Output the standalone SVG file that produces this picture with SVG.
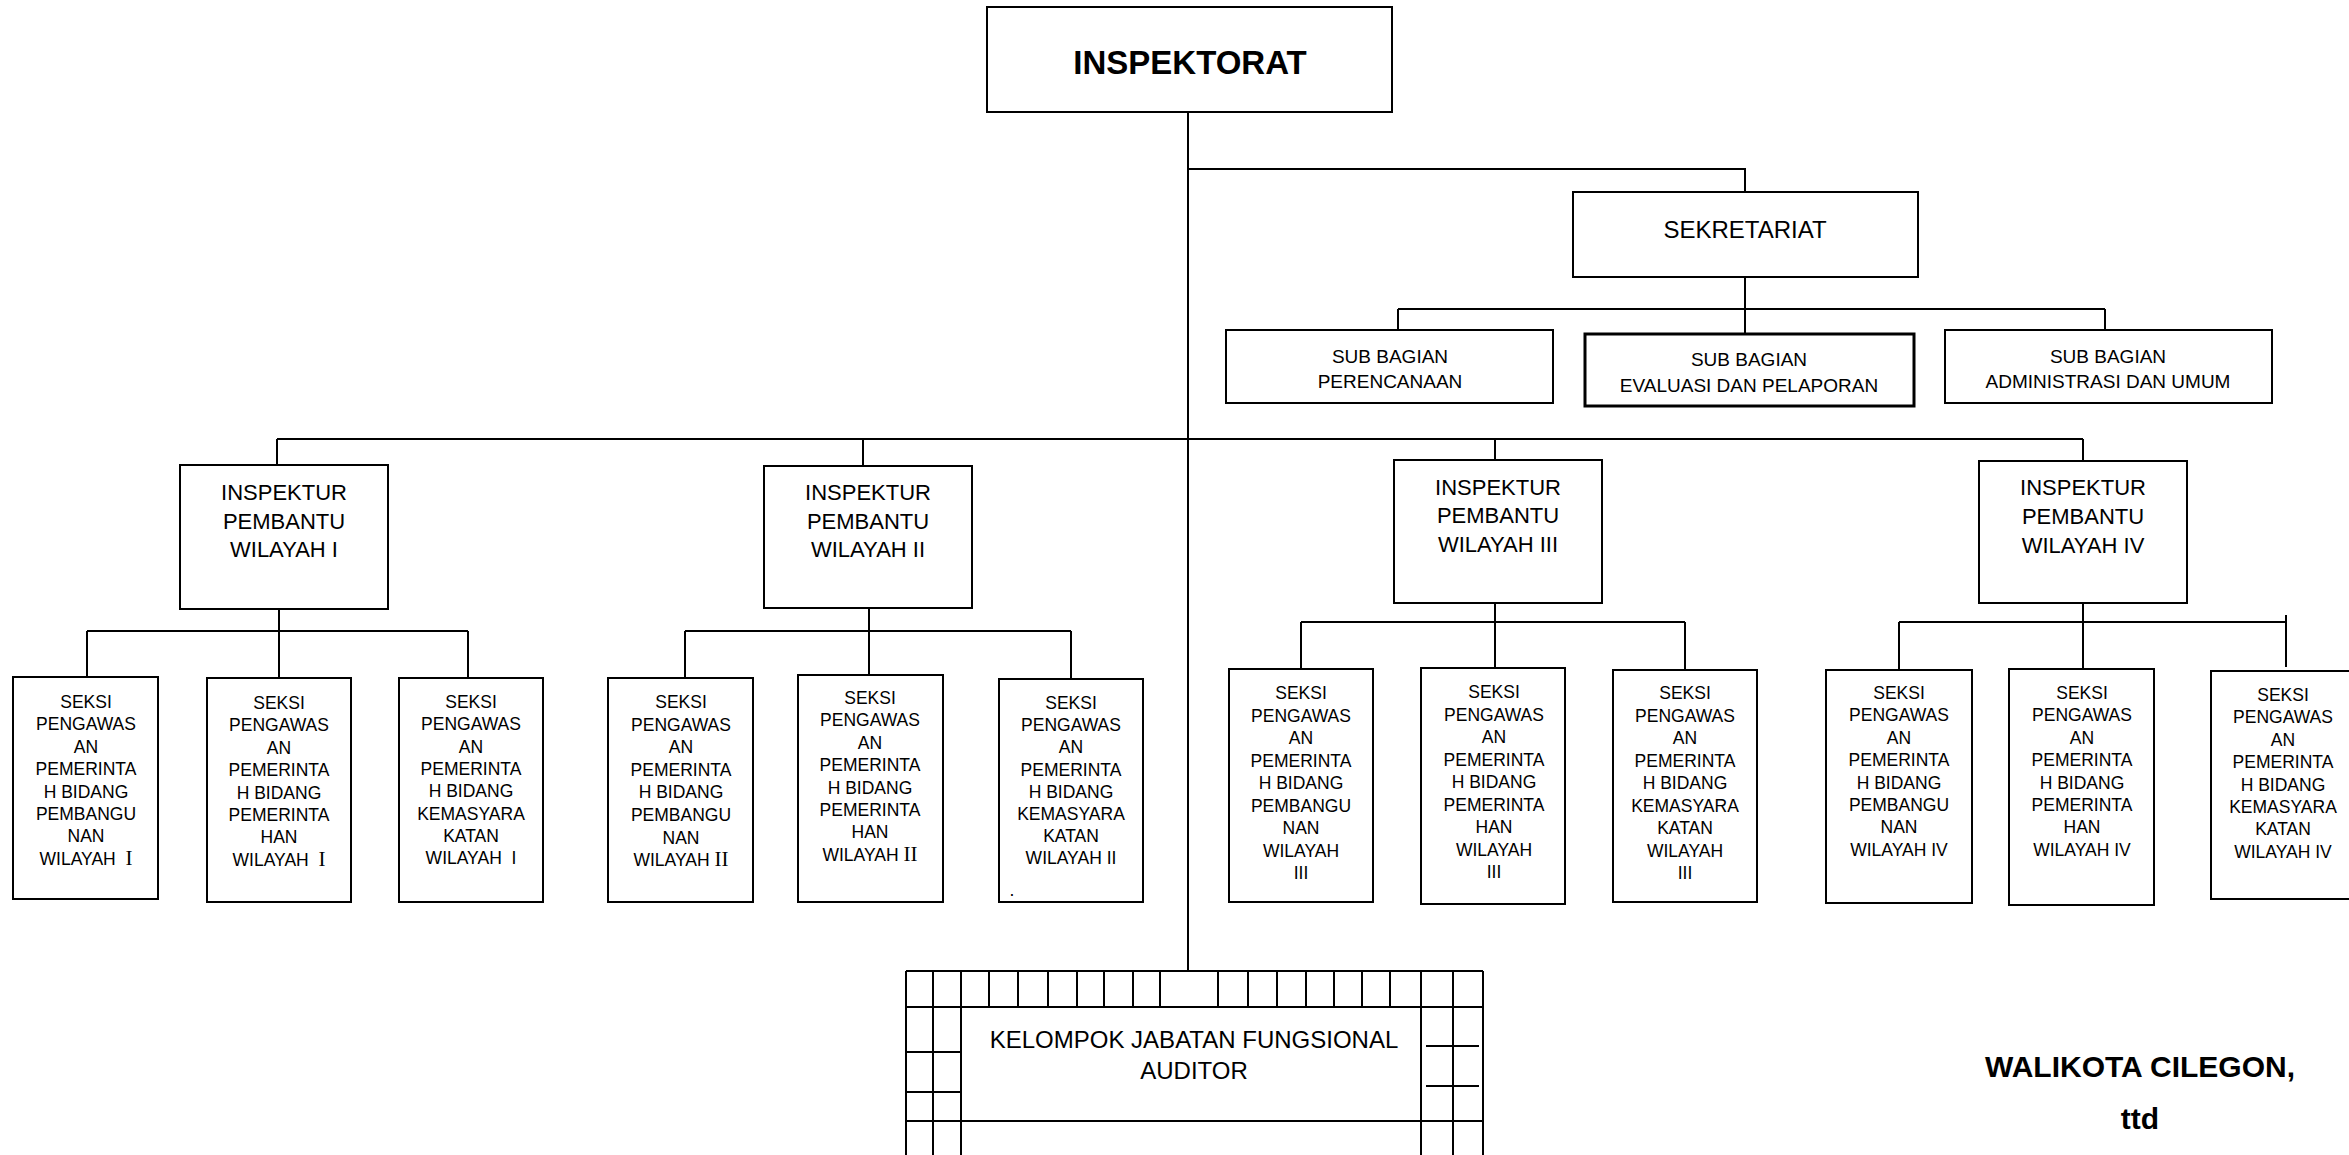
<svg xmlns="http://www.w3.org/2000/svg" width="2349" height="1155" viewBox="0 0 2349 1155">
<style>
.box{fill:#fff;stroke:#000;stroke-width:2}
.thick{stroke-width:3}
.ln{fill:none;stroke:#000;stroke-width:2}
text{font-family:"Liberation Sans",Arial,sans-serif;fill:#000;text-anchor:middle}
.b{font-weight:bold}
.sk{font-size:17.5px}
.ip{font-size:22px}
.sb{font-size:19px}
.sr{font-family:"Liberation Serif","Times New Roman",serif;font-size:21px}
</style>
<rect width="2349" height="1155" fill="#fff"/>

<g id="connectors" class="ln">
  <path d="M1188,112 V971"/>
  <path d="M1188,169 H1745 V192"/>
  <path d="M1745,277 V334 M1398,309 H2105 M1398,309 V330 M2105,309 V330"/>
  <path d="M277,439 H2083 M277,439 V465 M863,439 V466 M1495,439 V460 M2083,439 V461"/>
  <path d="M279,608 V679 M87,631 H468 M87,631 V677 M468,631 V679"/>
  <path d="M869,608 V675 M685,631 H1071 M685,631 V678 M1071,631 V679"/>
  <path d="M1495,602 V668 M1301,622 H1685 M1301,622 V669 M1685,622 V670"/>
  <path d="M2083,602 V669 M1899,622 H2286 M1899,622 V670 M2286,615 V667"/>
</g>

<g id="inspektorat">
  <rect class="box" x="987" y="7" width="405" height="105"/>
  <text class="b" x="1190" y="74" font-size="33">INSPEKTORAT</text>
</g>

<g id="sekretariat">
  <rect class="box" x="1573" y="192" width="345" height="85"/>
  <text x="1745" y="238" font-size="24">SEKRETARIAT</text>
</g>

<g id="sub-perencanaan">
  <rect class="box" x="1226" y="330" width="327" height="73"/>
  <text class="sb" x="1390" y="363">SUB BAGIAN</text>
  <text class="sb" x="1390" y="388">PERENCANAAN</text>
</g>
<g id="sub-evaluasi">
  <rect class="box thick" x="1585" y="334" width="329" height="72"/>
  <text class="sb" x="1749" y="366">SUB BAGIAN</text>
  <text class="sb" x="1749" y="392">EVALUASI DAN PELAPORAN</text>
</g>
<g id="sub-administrasi">
  <rect class="box" x="1945" y="330" width="327" height="73"/>
  <text class="sb" x="2108" y="363">SUB BAGIAN</text>
  <text class="sb" x="2108" y="388">ADMINISTRASI DAN UMUM</text>
</g>

<g id="ip1">
  <rect class="box" x="180" y="465" width="208" height="144"/>
  <text class="ip" x="284" y="500">INSPEKTUR</text>
  <text class="ip" x="284" y="529">PEMBANTU</text>
  <text class="ip" x="284" y="557">WILAYAH I</text>
</g>
<g id="ip2">
  <rect class="box" x="764" y="466" width="208" height="142"/>
  <text class="ip" x="868" y="500">INSPEKTUR</text>
  <text class="ip" x="868" y="529">PEMBANTU</text>
  <text class="ip" x="868" y="557">WILAYAH II</text>
</g>
<g id="ip3">
  <rect class="box" x="1394" y="460" width="208" height="143"/>
  <text class="ip" x="1498" y="495">INSPEKTUR</text>
  <text class="ip" x="1498" y="523">PEMBANTU</text>
  <text class="ip" x="1498" y="552">WILAYAH III</text>
</g>
<g id="ip4">
  <rect class="box" x="1979" y="461" width="208" height="142"/>
  <text class="ip" x="2083" y="495">INSPEKTUR</text>
  <text class="ip" x="2083" y="524">PEMBANTU</text>
  <text class="ip" x="2083" y="553">WILAYAH IV</text>
</g>

<!-- Group I -->
<g id="s1a">
  <rect class="box" x="13" y="677" width="145" height="222"/>
  <text class="sk" x="86" y="708"><tspan x="86">SEKSI</tspan><tspan x="86" dy="22.4">PENGAWAS</tspan><tspan x="86" dy="22.4">AN</tspan><tspan x="86" dy="22.4">PEMERINTA</tspan><tspan x="86" dy="22.4">H BIDANG</tspan><tspan x="86" dy="22.4">PEMBANGU</tspan><tspan x="86" dy="22.4">NAN</tspan><tspan x="86" dy="22.4">WILAYAH&#160; <tspan class="sr">I</tspan></tspan></text>
</g>
<g id="s1b">
  <rect class="box" x="207" y="678" width="144" height="224"/>
  <text class="sk" x="279" y="709"><tspan x="279">SEKSI</tspan><tspan x="279" dy="22.4">PENGAWAS</tspan><tspan x="279" dy="22.4">AN</tspan><tspan x="279" dy="22.4">PEMERINTA</tspan><tspan x="279" dy="22.4">H BIDANG</tspan><tspan x="279" dy="22.4">PEMERINTA</tspan><tspan x="279" dy="22.4">HAN</tspan><tspan x="279" dy="22.4">WILAYAH&#160; <tspan class="sr">I</tspan></tspan></text>
</g>
<g id="s1c">
  <rect class="box" x="399" y="678" width="144" height="224"/>
  <text class="sk" x="471" y="708"><tspan x="471">SEKSI</tspan><tspan x="471" dy="22.3">PENGAWAS</tspan><tspan x="471" dy="22.3">AN</tspan><tspan x="471" dy="22.3">PEMERINTA</tspan><tspan x="471" dy="22.3">H BIDANG</tspan><tspan x="471" dy="22.3">KEMASYARA</tspan><tspan x="471" dy="22.3">KATAN</tspan><tspan x="471" dy="22.3">WILAYAH&#160; I</tspan></text>
</g>

<!-- Group II -->
<g id="s2a">
  <rect class="box" x="608" y="678" width="145" height="224"/>
  <text class="sk" x="681" y="708"><tspan x="681">SEKSI</tspan><tspan x="681" dy="22.6">PENGAWAS</tspan><tspan x="681" dy="22.6">AN</tspan><tspan x="681" dy="22.6">PEMERINTA</tspan><tspan x="681" dy="22.6">H BIDANG</tspan><tspan x="681" dy="22.6">PEMBANGU</tspan><tspan x="681" dy="22.6">NAN</tspan><tspan x="681" dy="22.6">WILAYAH <tspan class="sr">II</tspan></tspan></text>
</g>
<g id="s2b">
  <rect class="box" x="798" y="675" width="145" height="227"/>
  <text class="sk" x="870" y="704"><tspan x="870">SEKSI</tspan><tspan x="870" dy="22.4">PENGAWAS</tspan><tspan x="870" dy="22.4">AN</tspan><tspan x="870" dy="22.4">PEMERINTA</tspan><tspan x="870" dy="22.4">H BIDANG</tspan><tspan x="870" dy="22.4">PEMERINTA</tspan><tspan x="870" dy="22.4">HAN</tspan><tspan x="870" dy="22.4">WILAYAH <tspan class="sr">II</tspan></tspan></text>
</g>
<g id="s2c">
  <rect class="box" x="999" y="679" width="144" height="223"/>
  <text class="sk" x="1071" y="709"><tspan x="1071">SEKSI</tspan><tspan x="1071" dy="22.2">PENGAWAS</tspan><tspan x="1071" dy="22.2">AN</tspan><tspan x="1071" dy="22.2">PEMERINTA</tspan><tspan x="1071" dy="22.2">H BIDANG</tspan><tspan x="1071" dy="22.2">KEMASYARA</tspan><tspan x="1071" dy="22.2">KATAN</tspan><tspan x="1071" dy="22.2">WILAYAH II</tspan></text>
  <text class="sk" x="1012" y="896" font-size="10">.</text>
</g>

<!-- Group III -->
<g id="s3a">
  <rect class="box" x="1229" y="669" width="144" height="233"/>
  <text class="sk" x="1301" y="699"><tspan x="1301">SEKSI</tspan><tspan x="1301" dy="22.5">PENGAWAS</tspan><tspan x="1301" dy="22.5">AN</tspan><tspan x="1301" dy="22.5">PEMERINTA</tspan><tspan x="1301" dy="22.5">H BIDANG</tspan><tspan x="1301" dy="22.5">PEMBANGU</tspan><tspan x="1301" dy="22.5">NAN</tspan><tspan x="1301" dy="22.5">WILAYAH</tspan><tspan x="1301" dy="22.5">III</tspan></text>
</g>
<g id="s3b">
  <rect class="box" x="1421" y="668" width="144" height="236"/>
  <text class="sk" x="1494" y="698"><tspan x="1494">SEKSI</tspan><tspan x="1494" dy="22.5">PENGAWAS</tspan><tspan x="1494" dy="22.5">AN</tspan><tspan x="1494" dy="22.5">PEMERINTA</tspan><tspan x="1494" dy="22.5">H BIDANG</tspan><tspan x="1494" dy="22.5">PEMERINTA</tspan><tspan x="1494" dy="22.5">HAN</tspan><tspan x="1494" dy="22.5">WILAYAH</tspan><tspan x="1494" dy="22.5">III</tspan></text>
</g>
<g id="s3c">
  <rect class="box" x="1613" y="670" width="144" height="232"/>
  <text class="sk" x="1685" y="699"><tspan x="1685">SEKSI</tspan><tspan x="1685" dy="22.5">PENGAWAS</tspan><tspan x="1685" dy="22.5">AN</tspan><tspan x="1685" dy="22.5">PEMERINTA</tspan><tspan x="1685" dy="22.5">H BIDANG</tspan><tspan x="1685" dy="22.5">KEMASYARA</tspan><tspan x="1685" dy="22.5">KATAN</tspan><tspan x="1685" dy="22.5">WILAYAH</tspan><tspan x="1685" dy="22.5">III</tspan></text>
</g>

<!-- Group IV -->
<g id="s4a">
  <rect class="box" x="1826" y="670" width="146" height="233"/>
  <text class="sk" x="1899" y="699"><tspan x="1899">SEKSI</tspan><tspan x="1899" dy="22.4">PENGAWAS</tspan><tspan x="1899" dy="22.4">AN</tspan><tspan x="1899" dy="22.4">PEMERINTA</tspan><tspan x="1899" dy="22.4">H BIDANG</tspan><tspan x="1899" dy="22.4">PEMBANGU</tspan><tspan x="1899" dy="22.4">NAN</tspan><tspan x="1899" dy="22.4">WILAYAH IV</tspan></text>
</g>
<g id="s4b">
  <rect class="box" x="2009" y="669" width="145" height="236"/>
  <text class="sk" x="2082" y="699"><tspan x="2082">SEKSI</tspan><tspan x="2082" dy="22.4">PENGAWAS</tspan><tspan x="2082" dy="22.4">AN</tspan><tspan x="2082" dy="22.4">PEMERINTA</tspan><tspan x="2082" dy="22.4">H BIDANG</tspan><tspan x="2082" dy="22.4">PEMERINTA</tspan><tspan x="2082" dy="22.4">HAN</tspan><tspan x="2082" dy="22.4">WILAYAH IV</tspan></text>
</g>
<g id="s4c">
  <rect class="box" x="2211" y="671" width="146" height="228"/>
  <text class="sk" x="2283" y="701"><tspan x="2283">SEKSI</tspan><tspan x="2283" dy="22.4">PENGAWAS</tspan><tspan x="2283" dy="22.4">AN</tspan><tspan x="2283" dy="22.4">PEMERINTA</tspan><tspan x="2283" dy="22.4">H BIDANG</tspan><tspan x="2283" dy="22.4">KEMASYARA</tspan><tspan x="2283" dy="22.4">KATAN</tspan><tspan x="2283" dy="22.4">WILAYAH IV</tspan></text>
</g>

<g id="kelompok-jabatan-fungsional">
  <g class="ln">
    <path d="M906,971 H1483 M906,1007 H1483 M906,1121 H1483"/>
    <path d="M906,971 V1155 M933,971 V1155 M961,971 V1155 M1421,971 V1155 M1453,971 V1155 M1483,971 V1155"/>
    <path d="M989,971 V1007 M1018,971 V1007 M1048,971 V1007 M1077,971 V1007 M1104,971 V1007 M1133,971 V1007 M1160,971 V1007 M1218,971 V1007 M1248,971 V1007 M1277,971 V1007 M1306,971 V1007 M1334,971 V1007 M1362,971 V1007 M1390,971 V1007"/>
    <path d="M906,1052 H961 M906,1092 H961"/>
    <path d="M1426,1046 H1479 M1426,1086 H1479"/>
  </g>
  <text x="1194" y="1048" font-size="24">KELOMPOK JABATAN FUNGSIONAL</text>
  <text x="1194" y="1079" font-size="24">AUDITOR</text>
</g>

<g id="signature">
  <text class="b" x="2140" y="1077" font-size="30">WALIKOTA CILEGON,</text>
  <text class="b" x="2140" y="1129" font-size="30">ttd</text>
</g>
</svg>
